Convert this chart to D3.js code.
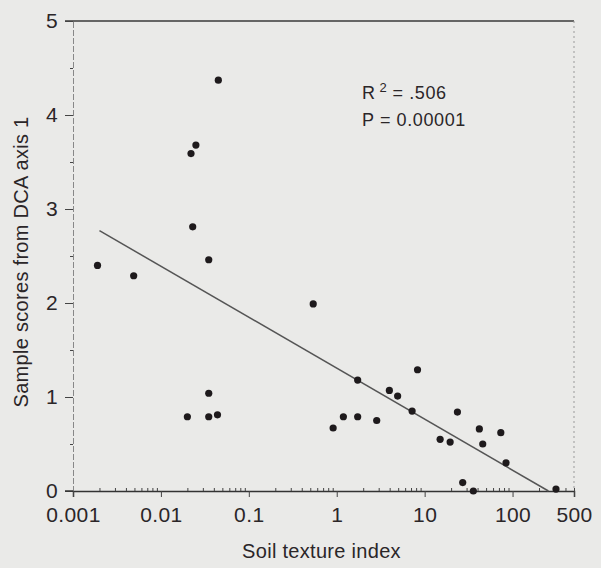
<!DOCTYPE html>
<html>
<head>
<meta charset="utf-8">
<script src="https://cdn.jsdelivr.net/npm/d3@7"></script>
<style>
  body { margin: 0; background: #eaeae8; }
  svg { display: block; font-family: "Liberation Sans", Arial, sans-serif; }
</style>
</head>
<body>
<svg id="chart"></svg>
<script>
var width = 601;
var height = 568;
var margin = {top: 21, bottom: 77, left: 73, right: 27};

// Data
var soilTexture = [0.0019, 0.0049, 0.020, 0.022, 0.023, 0.025, 0.035, 0.035, 0.035, 0.044, 0.045,
  0.54, 0.91, 1.19, 1.73, 1.73, 2.85, 3.97, 4.93, 7.2, 8.3,
  15.0, 19.5, 23.6, 27.1, 35.8, 41.9, 45.8, 73.5, 84.3, 312];
var dcaScore = [2.40, 2.29, 0.79, 3.59, 2.81, 3.68, 2.46, 1.04, 0.79, 0.81, 4.37,
  1.99, 0.67, 0.79, 1.18, 0.79, 0.75, 1.07, 1.01, 0.85, 1.29,
  0.55, 0.52, 0.84, 0.09, 0.00, 0.66, 0.50, 0.62, 0.30, 0.02];

// regression line end points
var fitX = [0.002, 256];
var fitY = [2.77, 0];

var xTicks = [0.001, 0.01, 0.1, 1, 10, 100, 500];
var xTickLabels = ['0.001', '0.01', '0.1', '1', '10', '100', '500'];
var yTicks = [0, 1, 2, 3, 4, 5];
var yMinorTicks = [0.5, 1.5, 2.5, 3.5, 4.5];
var statLines = ['R', '= .506', 'P = 0.00001'];

var svg = d3.select('#chart')
  .attr('width', width)
  .attr('height', height);

var x = d3.scaleLog()
  .domain([0.001, 500])
  .range([margin.left, width - margin.right]);

var y = d3.scaleLinear()
  .domain([0, 5])
  .range([height - margin.bottom, margin.top]);

var ink = '#2b2628';

// minor x ticks 2..9 in each decade
var xMinor = [];
[0.001, 0.01, 0.1, 1, 10, 100].forEach(function(d) {
  for (var k = 2; k <= 9; k++) {
    if (d * k <= 500) xMinor.push(d * k);
  }
});

// frame: top solid, right faint dotted
svg.append('line')
  .attr('x1', margin.left - 8).attr('x2', width - margin.right)
  .attr('y1', y(5)).attr('y2', y(5))
  .attr('stroke', '#3a3a3a').attr('stroke-width', 1.5);

svg.append('line')
  .attr('x1', width - margin.right).attr('x2', width - margin.right)
  .attr('y1', y(5)).attr('y2', y(0))
  .attr('stroke', '#9a9a9a').attr('stroke-width', 1)
  .attr('stroke-dasharray', '2,3');

// Y axis
var yAxis = svg.append('g')
  .attr('transform', 'translate(' + margin.left + ',0)')
  .call(d3.axisLeft(y).tickValues(yTicks).tickSize(8).tickPadding(7).tickFormat(d3.format('d')));

svg.append('g')
  .attr('transform', 'translate(' + margin.left + ',0)')
  .call(d3.axisLeft(y).tickValues(yMinorTicks).tickSize(3).tickFormat(''))
  .call(function(g) { g.select('.domain').remove(); });

yAxis.select('.domain')
  .attr('stroke', '#888')
  .attr('stroke-dasharray', '6,2');

// X axis
var xAxis = svg.append('g')
  .attr('transform', 'translate(0,' + y(0) + ')')
  .call(d3.axisBottom(x).tickValues(xTicks).tickSize(6).tickPadding(10)
    .tickFormat(function(d, i) { return xTickLabels[i]; }));

svg.append('g')
  .attr('transform', 'translate(0,' + y(0) + ')')
  .call(d3.axisTop(x).tickValues(xMinor).tickSize(3).tickFormat(''))
  .call(function(g) { g.select('.domain').remove(); });

xAxis.select('.domain')
  .attr('stroke', '#333').attr('stroke-width', 1.5);

// extend bottom axis to the left tick like the original
svg.append('line')
  .attr('x1', margin.left - 8).attr('x2', margin.left)
  .attr('y1', y(0)).attr('y2', y(0))
  .attr('stroke', '#333').attr('stroke-width', 1.5);

svg.selectAll('.tick line').attr('stroke', '#444');
svg.selectAll('.tick text')
  .attr('fill', ink)
  .attr('font-size', 21)
  .attr('letter-spacing', 0.4)
  .attr('font-family', '"Liberation Sans", Arial, sans-serif');

// regression line
svg.append('line')
  .attr('x1', x(fitX[0])).attr('y1', y(fitY[0]))
  .attr('x2', x(fitX[1])).attr('y2', y(fitY[1]))
  .attr('stroke', '#555').attr('stroke-width', 1.5);

// points
svg.append('g')
  .selectAll('circle')
  .data(soilTexture)
  .enter().append('circle')
    .attr('cx', function(d) { return x(d); })
    .attr('cy', function(d, i) { return y(dcaScore[i]); })
    .attr('r', 3.6)
    .attr('fill', '#1e1a1c');

// stats text
var stat = svg.append('g')
  .attr('fill', ink)
  .attr('font-size', 18)
  .attr('letter-spacing', 0.6);

var r2 = stat.append('text')
  .attr('x', 362)
  .attr('y', 99);
r2.append('tspan').text(statLines[0]);
r2.append('tspan').attr('dx', 4).attr('dy', -7).attr('font-size', 13).text('2');
r2.append('tspan').attr('dx', 5).attr('dy', 7).text(statLines[1]);

stat.append('text')
  .attr('x', 362)
  .attr('y', 126)
  .text(statLines[2]);

// axis titles
svg.append('text')
  .attr('x', (x(0.001) + x(500)) / 2 - 2)
  .attr('y', 558)
  .attr('text-anchor', 'middle')
  .attr('font-size', 20)
  .attr('letter-spacing', 0.3)
  .attr('fill', ink)
  .text('Soil texture index');

svg.append('text')
  .attr('transform', 'translate(28,' + ((y(0) + y(5)) / 2 + 6) + ') rotate(-90)')
  .attr('text-anchor', 'middle')
  .attr('font-size', 20)
  .attr('letter-spacing', 0.3)
  .attr('fill', ink)
  .text('Sample scores from DCA axis 1');
</script>
</body>
</html>
